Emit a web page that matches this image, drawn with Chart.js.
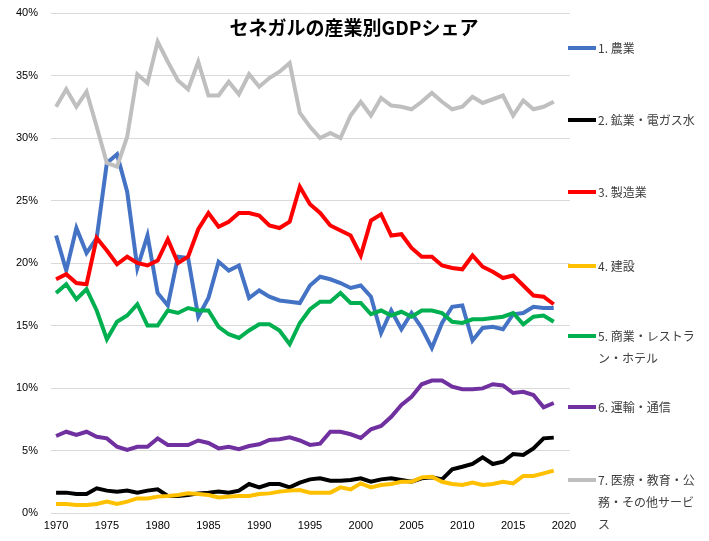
<!DOCTYPE html>
<html>
<head>
<meta charset="utf-8">
<script src="https://cdn.jsdelivr.net/npm/chart.js@4/dist/chart.umd.min.js"></script>
<style>
  body { margin: 0; background: #fff; }
  #wrap { width: 709px; height: 541px; }
</style>
</head>
<body>
<div id="wrap"><canvas id="myChart" width="709" height="541"></canvas></div>
<script>
const years = Array.from({ length: 50 }, (_, i) => 1970 + i);
const xTicks = [1970, 1975, 1980, 1985, 1990, 1995, 2000, 2005, 2010, 2015, 2020];

const agriculture = [22.2, 19.4, 22.8, 20.8, 22.0, 28.0, 28.7, 25.7, 19.6, 22.2, 17.6, 16.6, 20.5, 20.4, 15.7, 17.2, 20.1, 19.4, 19.8, 17.2, 17.8, 17.3, 17.0, 16.9, 16.8, 18.2, 18.9, 18.7, 18.4, 18.0, 18.2, 17.3, 14.4, 16.2, 14.7, 16.0, 14.8, 13.2, 15.2, 16.5, 16.6, 13.8, 14.8, 14.9, 14.7, 15.9, 16.0, 16.5, 16.4, 16.4];
const mining = [1.63, 1.63, 1.52, 1.52, 1.97, 1.79, 1.71, 1.79, 1.63, 1.79, 1.89, 1.36, 1.36, 1.44, 1.57, 1.63, 1.71, 1.63, 1.79, 2.32, 2.05, 2.32, 2.32, 2.05, 2.43, 2.69, 2.77, 2.59, 2.59, 2.64, 2.77, 2.5, 2.69, 2.77, 2.64, 2.5, 2.77, 2.85, 2.69, 3.5, 3.7, 3.92, 4.45, 3.92, 4.1, 4.72, 4.64, 5.17, 5.97, 6.03];
const manufacturing = [18.7, 19.1, 18.4, 18.3, 22.0, 21.0, 19.9, 20.5, 20.0, 19.8, 20.2, 21.9, 20.0, 20.5, 22.7, 24.0, 22.9, 23.3, 24.0, 24.0, 23.8, 23.0, 22.8, 23.3, 26.1, 24.7, 24.0, 23.0, 22.6, 22.2, 20.6, 23.4, 23.9, 22.2, 22.3, 21.2, 20.5, 20.5, 19.8, 19.6, 19.5, 20.6, 19.7, 19.3, 18.8, 19.0, 18.2, 17.4, 17.3, 16.7];
const construction = [0.72, 0.72, 0.64, 0.64, 0.72, 0.91, 0.72, 0.91, 1.17, 1.17, 1.31, 1.36, 1.44, 1.57, 1.52, 1.44, 1.25, 1.31, 1.36, 1.36, 1.52, 1.57, 1.71, 1.79, 1.84, 1.63, 1.63, 1.63, 2.05, 1.89, 2.37, 2.05, 2.24, 2.32, 2.5, 2.5, 2.85, 2.9, 2.5, 2.32, 2.24, 2.43, 2.24, 2.32, 2.5, 2.37, 2.96, 2.96, 3.17, 3.39];
const commerce = [17.6, 18.3, 17.1, 17.9, 16.2, 13.9, 15.3, 15.8, 16.7, 15.0, 15.0, 16.2, 16.0, 16.4, 16.2, 16.2, 14.9, 14.3, 14.0, 14.6, 15.1, 15.1, 14.6, 13.5, 15.2, 16.3, 16.9, 16.9, 17.6, 16.8, 16.8, 15.9, 16.2, 15.8, 16.1, 15.7, 16.2, 16.2, 16.0, 15.3, 15.2, 15.5, 15.5, 15.6, 15.7, 16.0, 15.1, 15.7, 15.8, 15.3];
const transport = [6.16, 6.5, 6.24, 6.5, 6.1, 5.97, 5.3, 5.04, 5.3, 5.3, 5.97, 5.44, 5.44, 5.44, 5.8, 5.6, 5.17, 5.3, 5.1, 5.36, 5.5, 5.84, 5.9, 6.05, 5.8, 5.45, 5.55, 6.5, 6.5, 6.3, 6.0, 6.7, 6.96, 7.7, 8.64, 9.3, 10.3, 10.6, 10.6, 10.1, 9.9, 9.9, 9.97, 10.3, 10.2, 9.6, 9.7, 9.44, 8.45, 8.8];
const services = [32.5, 33.9, 32.5, 33.7, 30.9, 28.0, 27.7, 30.1, 35.1, 34.4, 37.7, 36.1, 34.6, 33.9, 36.1, 33.4, 33.4, 34.5, 33.5, 35.1, 34.1, 34.8, 35.3, 36.0, 32.0, 30.9, 30.0, 30.4, 30.0, 31.8, 32.9, 31.8, 33.2, 32.6, 32.5, 32.3, 32.9, 33.6, 32.9, 32.3, 32.5, 33.3, 32.8, 33.1, 33.4, 31.8, 33.0, 32.3, 32.5, 32.9];

const seriesNames = ['1. 農業', '2. 鉱業・電ガス水', '3. 製造業', '4. 建設', '5. 商業・レストラン・ホテル', '6. 運輸・通信', '7. 医療・教育・公務・その他サービス'];
const seriesValues = [agriculture, mining, manufacturing, construction, commerce, transport, services];
const seriesColors = ['#4472C4', '#000000', '#FF0000', '#FFC000', '#00B050', '#7030A0', '#BFBFBF'];

// legend text lines and their vertical positions on the right
const legendLines = [['1. 農業'], ['2. 鉱業・電ガス水'], ['3. 製造業'], ['4. 建設'], ['5. 商業・レストラ', 'ン・ホテル'], ['6. 運輸・通信'], ['7. 医療・教育・公', '務・その他サービ', 'ス']];
const legendY = [48, 120, 192, 266, 336, 407, 480];

const jpFont = '"Noto Sans CJK JP", "Noto Sans", sans-serif';

const datasets = seriesNames.map((name, i) => ({
  label: name,
  data: years.map((y, j) => ({ x: y, y: seriesValues[i][j] })),
  borderColor: seriesColors[i],
  backgroundColor: seriesColors[i],
  borderWidth: 4,
  pointRadius: 0,
  tension: 0,
  order: 7 - i
}));

const overlay = {
  id: 'overlay',
  afterDraw(chart) {
    const c = chart.ctx;
    c.save();
    c.fillStyle = '#000';
    c.font = 'bold 19px ' + jpFont;
    c.textAlign = 'center';
    c.textBaseline = 'middle';
    c.fillText('セネガルの産業別GDPシェア', 354, 28);

    c.font = '12px ' + jpFont;
    c.textAlign = 'left';
    legendLines.forEach((lines, i) => {
      const y = legendY[i];
      c.strokeStyle = seriesColors[i];
      c.lineWidth = 4;
      c.beginPath();
      c.moveTo(568, y);
      c.lineTo(596, y);
      c.stroke();
      c.fillStyle = '#404040';
      lines.forEach((t, k) => c.fillText(t, 598, y + k * 22));
    });
    c.restore();
  }
};

new Chart(document.getElementById('myChart'), {
  type: 'line',
  data: { datasets: datasets },
  options: {
    responsive: false,
    animation: false,
    layout: { padding: { top: 13, right: 139, bottom: 0, left: 0 } },
    plugins: { legend: { display: false }, tooltip: { enabled: false } },
    scales: {
      x: {
        type: 'linear',
        min: 1969.5,
        max: 2020.6,
        afterBuildTicks: s => { s.ticks = xTicks.map(v => ({ value: v })); },
        afterFit: s => { s.height = 28; },
        grid: { display: false, drawTicks: false },
        border: { display: false },
        ticks: { padding: 6, color: '#000', font: { size: 11, family: 'Liberation Sans, Arial' }, maxRotation: 0, callback: v => String(v) }
      },
      y: {
        min: 0,
        max: 40,
        afterFit: s => { s.width = 51; },
        grid: { color: '#d9d9d9', lineWidth: 1, drawTicks: true, tickLength: 13, tickColor: 'rgba(0,0,0,0)' },
        border: { display: false },
        ticks: { stepSize: 5, padding: 0, color: '#000', font: { size: 11, family: 'Liberation Sans, Arial' }, callback: v => v + '%' }
      }
    }
  },
  plugins: [overlay]
});
</script>
</body>
</html>
